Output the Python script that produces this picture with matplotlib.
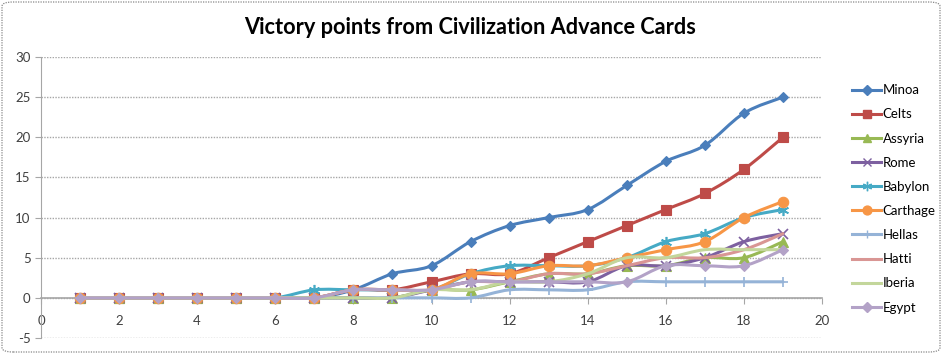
import matplotlib
matplotlib.use("Agg")
import matplotlib.pyplot as plt
import numpy as np
from matplotlib.path import Path
from matplotlib.patches import PathPatch, FancyBboxPatch
from matplotlib.lines import Line2D

plt.rcParams['font.family'] = ['Lato', 'DejaVu Sans']
plt.rcParams['axes.unicode_minus'] = False

turns = list(range(1, 20))
Minoa = [0, 0, 0, 0, 0, 0, 0, 1, 3, 4, 7, 9, 10, 11, 14, 17, 19, 23, 25]
Celts = [0, 0, 0, 0, 0, 0, 0, 1, 1, 2, 3, 3, 5, 7, 9, 11, 13, 16, 20]
Assyria = [0, 0, 0, 0, 0, 0, 0, 0, 0, 1, 1, 2, 3, 3, 4, 4, 5, 5, 7]
Rome = [0, 0, 0, 0, 0, 0, 0, 0, 0, 1, 2, 2, 2, 2, 4, 4, 5, 7, 8]
Babylon = [0, 0, 0, 0, 0, 0, 1, 1, 1, 1, 3, 4, 4, 4, 5, 7, 8, 10, 11]
Carthage = [0, 0, 0, 0, 0, 0, 0, 1, 1, 1, 3, 3, 4, 4, 5, 6, 7, 10, 12]
Hellas = [0, 0, 0, 0, 0, 0, 0, 0, 0, 0, 0, 1, 1, 1, 2, 2, 2, 2, 2]
Hatti = [0, 0, 0, 0, 0, 0, 0, 1, 1, 1, 2, 2, 3, 3, 4, 5, 5, 6, 8]
Iberia = [0, 0, 0, 0, 0, 0, 0, 0, 0, 1, 1, 2, 2, 3, 5, 5, 6, 6, 6]
Egypt = [0, 0, 0, 0, 0, 0, 0, 1, 1, 1, 2, 2, 2, 2, 2, 4, 4, 4, 6]

names = ["Minoa", "Celts", "Assyria", "Rome", "Babylon", "Carthage",
         "Hellas", "Hatti", "Iberia", "Egypt"]
series = [Minoa, Celts, Assyria, Rome, Babylon, Carthage, Hellas, Hatti, Iberia, Egypt]

colors = ["#4A7EBB", "#BE4B48", "#98B954", "#7D60A0", "#46AAC5", "#F79646",
          "#95B3D7", "#D99694", "#C3D69B", "#B3A2C7"]
mfc = ["#4A7EBB", "#BE4B48", "#98B954", "#B3A2E0", "#9ED8EE", "#F79646",
       "#95B3D7", "#D99694", "#C3D69B", "#B3A2C7"]
markers = ["D", "s", "^", "x", (6, 2, 0), "o", "+", None, None, "D"]
msizes = [5.5, 6.5, 6.5, 7, 8, 7.5, 7, 0, 0, 5.5]


def smooth_path(x, y):
    pts = np.column_stack([x, y]).astype(float)
    n = len(pts)
    verts = [pts[0]]
    codes = [Path.MOVETO]
    for i in range(n - 1):
        p0 = pts[i - 1] if i > 0 else pts[i]
        p1 = pts[i]
        p2 = pts[i + 1]
        p3 = pts[i + 2] if i + 2 < n else pts[i + 1]
        c1 = p1 + (p2 - p0) / 6.0
        c2 = p2 - (p3 - p1) / 6.0
        verts += [c1, c2, p2]
        codes += [Path.CURVE4] * 3
    return Path(verts, codes)


fig = plt.figure(figsize=(9.42, 3.54), dpi=100)
ax = fig.add_axes([41 / 942, 1 - 338 / 354, (822 - 41) / 942, (338 - 57) / 354])

ax.set_xlim(0, 20)
ax.set_ylim(-5, 30)
ax.set_xticks(range(0, 21, 2))
ax.set_yticks(range(-5, 31, 5))
ax.yaxis.grid(True, color="#A6A6A6", linestyle=(0, (1, 1)), linewidth=1)
ax.set_axisbelow(True)

for s in ["top", "right"]:
    ax.spines[s].set_visible(False)
ax.spines["bottom"].set_position(("data", 0))
ax.spines["bottom"].set_color("#A6A6A6")
ax.spines["bottom"].set_linewidth(1.2)
ax.spines["left"].set_color("#A6A6A6")
ax.spines["left"].set_linestyle((0, (1, 1)))
ax.tick_params(axis="both", colors="#A6A6A6", labelcolor="#404040",
               labelsize=9.5, length=4, width=0.8)
ax.tick_params(axis="x", direction="out", pad=8)

handles = []
for i, (name, vals) in enumerate(zip(names, series)):
    z = 3 + i * 0.1
    ax.add_patch(PathPatch(smooth_path(turns, vals), fill=False,
                           edgecolor=colors[i], lw=2.2, zorder=z,
                           capstyle="round", joinstyle="round"))
    if markers[i] is not None:
        ax.plot(turns, vals, linestyle="none", marker=markers[i],
                markersize=msizes[i], color=colors[i],
                markerfacecolor=mfc[i], markeredgecolor=colors[i],
                markeredgewidth=1.2 if markers[i] in ("x", "+", (6, 2, 0)) else 0.8,
                zorder=z + 0.05, clip_on=False)
    handles.append(Line2D([], [], color=colors[i], lw=2.2,
                          marker=markers[i] if markers[i] is not None else None,
                          markersize=msizes[i] * 0.85, markerfacecolor=mfc[i],
                          markeredgecolor=colors[i], markeredgewidth=1.0))

fig.legend(handles, names, loc="upper left", bbox_to_anchor=(847 / 942, 1 - 79 / 354),
           frameon=False, fontsize=9.5, handlelength=2.2, handletextpad=0.1,
           labelspacing=0.92, borderaxespad=0)

fig.text(470 / 942, 1 - 27 / 354, "Victory points from Civilization Advance Cards",
         ha="center", va="center", fontsize=15.7, fontweight="bold", color="black")

border = FancyBboxPatch((2 / 942, 2 / 354), 938 / 942, 350 / 354,
                        boxstyle="round,pad=0,rounding_size=0.012",
                        transform=fig.transFigure, fill=False,
                        edgecolor="#888888", lw=0.9, linestyle=(0, (1, 1)))
fig.patches.append(border)

fig.savefig("out.png", dpi=100)
